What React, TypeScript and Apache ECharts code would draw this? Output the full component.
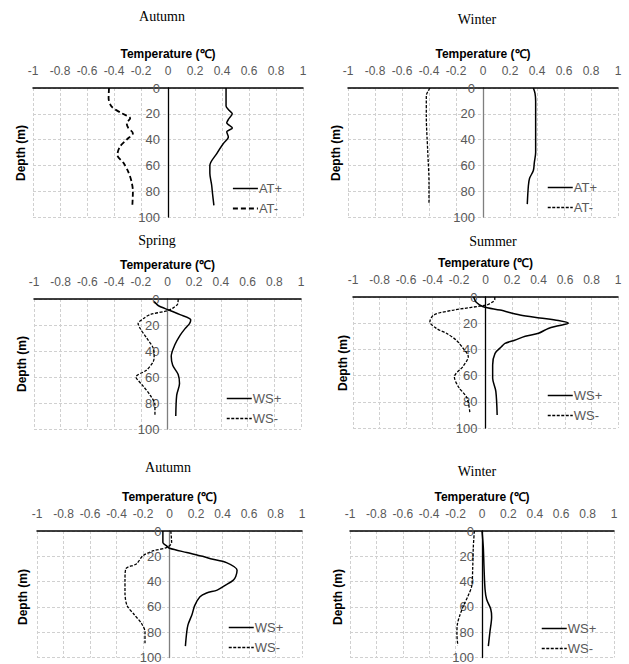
import React, { useEffect, useRef } from "react";
import * as echarts from "echarts";

// ---------- data (temperature °C vs depth m) ----------
const xTicks = [-1, -0.8, -0.6, -0.4, -0.2, 0, 0.2, 0.4, 0.6, 0.8, 1];
const depthTicks = [0, 20, 40, 60, 80, 100];

// Panel 1: Autumn (AT)
const p1PlusDepth = [0, 5, 14, 17, 20, 24, 27, 31, 34, 38, 43, 51, 60, 66, 75, 82, 91];
const p1PlusVal = [0.43, 0.43, 0.43, 0.45, 0.476, 0.45, 0.435, 0.477, 0.435, 0.447, 0.41, 0.36, 0.31, 0.31, 0.323, 0.33, 0.34];
const p1MinusDepth = [0, 8, 14.5, 19.6, 23.5, 27.4, 31, 35, 40, 45.5, 52, 58, 65, 72.6, 80, 91];
const p1MinusVal = [-0.437, -0.44, -0.417, -0.343, -0.28, -0.306, -0.294, -0.26, -0.306, -0.356, -0.375, -0.33, -0.294, -0.27, -0.26, -0.264];

// Panel 2: Winter (AT)
const p2PlusDepth = [0, 4, 10, 30, 50, 58, 64, 70, 76, 90];
const p2PlusVal = [0.373, 0.385, 0.39, 0.39, 0.39, 0.38, 0.373, 0.345, 0.336, 0.328];
const p2MinusDepth = [0, 3, 6, 22, 48, 74, 89];
const p2MinusVal = [-0.393, -0.41, -0.42, -0.42, -0.41, -0.4, -0.4];

// Panel 3: Spring (WS)
const p3PlusDepth = [2, 5, 8.5, 12, 16, 19, 23, 28, 35, 44, 51, 58, 65, 74, 90];
const p3PlusVal = [-0.1, -0.07, 0.01, 0.094, 0.174, 0.165, 0.13, 0.094, 0.056, 0.028, 0.039, 0.08, 0.09, 0.069, 0.062];
const p3MinusDepth = [0, 4, 7, 9, 12, 15, 19, 22.5, 30, 38, 44, 48, 54.6, 60, 66, 74, 81.5, 90];
const p3MinusVal = [0.08, 0.075, 0.04, 0, -0.13, -0.18, -0.22, -0.206, -0.156, -0.106, -0.1, -0.106, -0.156, -0.236, -0.19, -0.13, -0.094, -0.094];

// Panel 4: Summer (WS)
const p4PlusDepth = [0, 4, 7.4, 10, 13.7, 16, 18, 20, 22, 24, 27.7, 30, 33, 35.4, 38, 43, 52, 62, 72, 90];
const p4PlusVal = [-0.09, -0.07, -0.017, 0.11, 0.26, 0.41, 0.55, 0.625, 0.55, 0.474, 0.4, 0.3, 0.22, 0.147, 0.12, 0.072, 0.054, 0.054, 0.078, 0.088];
const p4MinusDepth = [0, 2, 4, 6, 10, 13.7, 19, 24, 28, 33, 39, 45.5, 53, 61, 68.5, 77, 89];
const p4MinusVal = [0.07, 0.07, 0.05, 0.01, -0.24, -0.39, -0.42, -0.37, -0.29, -0.22, -0.17, -0.13, -0.17, -0.235, -0.205, -0.14, -0.117];

// Panel 5: Autumn (WS)
const p5PlusDepth = [0, 9, 12, 13.6, 17, 20, 22, 25, 31, 36, 39, 43, 46.7, 49, 52, 59, 66, 74, 80, 91];
const p5PlusVal = [-0.05, -0.05, -0.02, 0, 0.13, 0.25, 0.31, 0.43, 0.51, 0.5, 0.48, 0.42, 0.36, 0.28, 0.23, 0.19, 0.17, 0.14, 0.13, 0.12];
const p5MinusDepth = [0, 9, 13, 15.6, 19.5, 26, 30, 38.7, 49, 59, 65.6, 73.3, 79.8, 88.7];
const p5MinusVal = [0.01, 0.016, -0.02, -0.12, -0.2, -0.25, -0.33, -0.336, -0.336, -0.32, -0.27, -0.21, -0.185, -0.185];

// Panel 6: Winter (WS)
const p6PlusDepth = [0, 13, 28, 46, 54, 61.6, 68, 79.8, 91];
const p6PlusVal = [0, 0.01, 0.015, 0.023, 0.035, 0.066, 0.073, 0.06, 0.048];
const p6MinusDepth = [0, 13, 28, 43.5, 51, 59, 66.4, 74, 81.7, 90.6];
const p6MinusVal = [-0.058, -0.066, -0.07, -0.078, -0.104, -0.14, -0.167, -0.187, -0.19, -0.183];

const seasons = ["Autumn", "Winter", "Spring", "Summer", "Autumn", "Winter"];
const legendNames = [
  ["AT+", "AT-"],
  ["AT+", "AT-"],
  ["WS+", "WS-"],
  ["WS+", "WS-"],
  ["WS+", "WS-"],
  ["WS+", "WS-"],
];

const panelsData = [
  { plus: [p1PlusVal, p1PlusDepth], minus: [p1MinusVal, p1MinusDepth] },
  { plus: [p2PlusVal, p2PlusDepth], minus: [p2MinusVal, p2MinusDepth] },
  { plus: [p3PlusVal, p3PlusDepth], minus: [p3MinusVal, p3MinusDepth] },
  { plus: [p4PlusVal, p4PlusDepth], minus: [p4MinusVal, p4MinusDepth] },
  { plus: [p5PlusVal, p5PlusDepth], minus: [p5MinusVal, p5MinusDepth] },
  { plus: [p6PlusVal, p6PlusDepth], minus: [p6MinusVal, p6MinusDepth] },
];

// ---------- layout ----------
const grids = [
  { left: 33, top: 88, width: 270, height: 129 },
  { left: 348, top: 88, width: 270, height: 129 },
  { left: 34, top: 299, width: 267, height: 130 },
  { left: 353, top: 297, width: 265, height: 131 },
  { left: 37, top: 531, width: 265, height: 130 },
  { left: 350, top: 531, width: 264, height: 131 },
];
const seasonPos = [
  [162, 16], [477, 19], [157, 240], [493, 241], [168, 467], [477, 471],
];
const depthPos = [
  [21, 153], [336, 153], [22, 364], [343, 363], [23, 597], [338, 597],
];
const legendPos = [
  [232, 182], [547, 181], [226, 392], [547, 389], [228, 621], [541, 622],
];
const zeroLineColor = ["#000", "#7f7f7f", "#7f7f7f", "#000", "#7f7f7f", "#000"];
const dashPattern = [[5, 3], [3, 1.5], [3, 1.5], [3, 1.5], [3, 1.5], [3, 1.5]];

const SANS = '"Liberation Sans", Arial, sans-serif';
const SERIF = '"Liberation Serif", "Times New Roman", serif';

function pairs(vals: number[], depths: number[]) {
  return vals.map((v, i) => [v, depths[i]]);
}

export default function App() {
  const ref = useRef<HTMLDivElement>(null);

  useEffect(() => {
    if (!ref.current) return;
    const chart = echarts.init(ref.current, undefined, { renderer: "svg" });

    const xAxis: any[] = [];
    const yAxis: any[] = [];
    const series: any[] = [];
    const legend: any[] = [];
    const graphic: any[] = [];

    grids.forEach((g, i) => {
      xAxis.push({
        gridIndex: i,
        type: "value",
        position: "top",
        min: xTicks[0],
        max: xTicks[xTicks.length - 1],
        interval: 0.2,
        name: "Temperature (℃)",
        nameLocation: "middle",
        nameGap: 28,
        nameTextStyle: { fontFamily: SANS, fontSize: 12, fontWeight: "bold", color: "#000" },
        axisLine: { show: true, onZero: false, lineStyle: { color: "#000", width: 1.5 } },
        axisTick: { show: false },
        axisLabel: {
          color: "#595959",
          fontFamily: SANS,
          fontSize: 12,
          margin: 11,
          formatter: (v: number) => String(Math.round(v * 10) / 10),
        },
        splitLine: { show: true, lineStyle: { color: "#d0d0d0", type: [3, 2], width: 1 } },
      });
      yAxis.push({
        gridIndex: i,
        type: "value",
        position: "left",
        offset: -g.width / 2,
        inverse: true,
        min: depthTicks[0],
        max: depthTicks[depthTicks.length - 1],
        interval: 20,
        axisLine: { show: true, onZero: false, lineStyle: { color: zeroLineColor[i], width: 1.3 } },
        axisTick: { show: false },
        axisLabel: { color: "#595959", fontFamily: SANS, fontSize: 13, margin: 8 },
        splitLine: { show: true, lineStyle: { color: "#d0d0d0", type: [3, 2], width: 1 } },
      });
      const d = panelsData[i];
      const [pn, mn] = legendNames[i];
      series.push({
        type: "line",
        name: pn,
        xAxisIndex: i,
        yAxisIndex: i,
        data: pairs(d.plus[0], d.plus[1]),
        showSymbol: false,
        symbol: "none",
        smooth: 0.3,
        lineStyle: { color: "#000", width: 1.5, type: "solid" },
        itemStyle: { color: "#000" },
        z: 3,
      });
      series.push({
        type: "line",
        name: mn,
        xAxisIndex: i,
        yAxisIndex: i,
        data: pairs(d.minus[0], d.minus[1]),
        showSymbol: false,
        symbol: "none",
        smooth: 0.3,
        lineStyle: { color: "#000", width: i === 0 ? 1.8 : 1.3, type: dashPattern[i] },
        itemStyle: { color: "#000" },
        z: 3,
      });
      legend.push({
        left: legendPos[i][0],
        top: legendPos[i][1],
        orient: "vertical",
        itemWidth: 25,
        itemHeight: 12,
        itemGap: 7,
        padding: 0,
        textStyle: { color: "#595959", fontFamily: SANS, fontSize: 13, padding: [0, 0, 0, -4] },
        selectedMode: false,
        itemStyle: { color: "rgba(0,0,0,0)", borderWidth: 0, opacity: 0 },
        data: [
          { name: pn, lineStyle: { color: "#000", width: 1.5, type: "solid" } },
          { name: mn, lineStyle: { color: "#000", width: i === 0 ? 1.8 : 1.3, type: dashPattern[i] } },
        ],
      });
      graphic.push({
        type: "text",
        x: seasonPos[i][0],
        y: seasonPos[i][1],
        style: {
          text: seasons[i],
          align: "center",
          verticalAlign: "middle",
          font: `14px ${SERIF}`,
          fill: "#000",
        },
      });
      graphic.push({
        type: "text",
        x: depthPos[i][0],
        y: depthPos[i][1],
        rotation: Math.PI / 2,
        style: {
          text: "Depth (m)",
          align: "center",
          verticalAlign: "middle",
          font: `bold 12px ${SANS}`,
          fill: "#000",
        },
      });
    });

    chart.setOption({
      animation: false,
      backgroundColor: "#fff",
      grid: grids.map((g) => ({ ...g, containLabel: false })),
      xAxis,
      yAxis,
      series,
      legend,
      graphic,
    });

    return () => chart.dispose();
  }, []);

  return (
    <div
      ref={ref}
      style={{ position: "fixed", left: 0, top: 0, width: 629, height: 664, background: "#fff" }}
    />
  );
}
